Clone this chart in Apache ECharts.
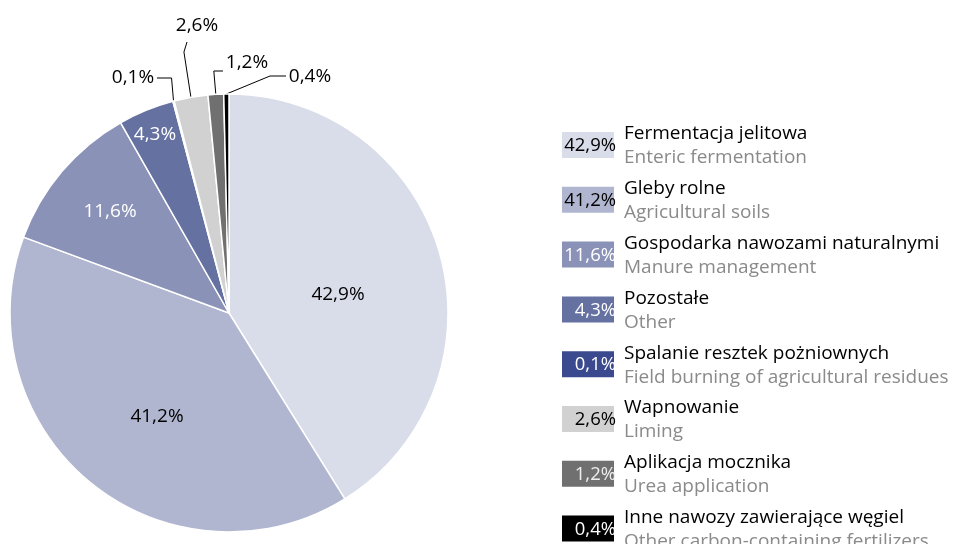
<!DOCTYPE html>
<html>
<head>
<meta charset="utf-8">
<script src="https://cdn.jsdelivr.net/npm/echarts@6/dist/echarts.min.js"></script>
<style>
  html, body { margin: 0; padding: 0; background: #fff; }
  #chart { width: 953px; height: 544px; }
</style>
</head>
<body>
<div id="chart"></div>
<script>
const namesPl = ["Fermentacja jelitowa", "Gleby rolne", "Gospodarka nawozami naturalnymi", "Pozostałe",
  "Spalanie resztek pożniownych", "Wapnowanie", "Aplikacja mocznika", "Inne nawozy zawierające węgiel"];
const namesEn = ["Enteric fermentation", "Agricultural soils", "Manure management", "Other",
  "Field burning of agricultural residues", "Liming", "Urea application", "Other carbon-containing fertilizers"];
const values = [42.9, 41.2, 11.6, 4.3, 0.1, 2.6, 1.2, 0.4];
const colors = ["#d9dde9", "#b1b6d0", "#8a92b8", "#6571a1", "#3b4a8e", "#d1d1d1", "#707070", "#000000"];
const sliceTextColors = ["#000", "#000", "#fff", "#fff", "#000", "#000", "#000", "#000"];
const swatchTextColors = ["#000", "#000", "#fff", "#fff", "#fff", "#000", "#eee", "#fff"];

const FONT = "'Open Sans', sans-serif";
const fmt = (v) => v.toFixed(1).replace(".", ",") + "%";

// label centres (px), first four inside, last four outside
const labelPos = [[338, 295], [157, 417], [110, 212], [155, 135], [133, 78], [197, 26], [247, 63], [310, 77]];

function leaderLine(i, a, lx, ly) {
  if (i === 4) return [a, [a[0] - 2, ly], [lx + 24, ly]];
  if (i === 5) return [a, [a[0] - 7, ly + 26], [lx - 10, ly + 16]];
  if (i === 6) return [a, [a[0] - 2, ly + 8], [lx - 24, ly + 8]];
  return [a, [lx - 40, ly - 1], [lx - 24, ly - 1]];
}

const chart = echarts.init(document.getElementById("chart"));

const legend = [];
values.forEach((v, i) => {
  const y0 = 132 + 54.8 * i;
  legend.push(
    { type: "rect", shape: { x: 562, y: y0, width: 52, height: 26 }, style: { fill: colors[i] } },
    { type: "text", x: 616, y: y0 + 14, style: { text: fmt(v), fill: swatchTextColors[i], font: "18.5px " + FONT, align: "right", verticalAlign: "middle", textAlign: "right", textVerticalAlign: "middle" } },
    { type: "text", x: 624, y: y0 + 2, style: { text: namesPl[i], fill: "#000", font: "19px " + FONT, align: "left", verticalAlign: "middle", textAlign: "left", textVerticalAlign: "middle" } },
    { type: "text", x: 624, y: y0 + 26, style: { text: namesEn[i], fill: "#8a8a8a", font: "19px " + FONT, align: "left", verticalAlign: "middle", textAlign: "left", textVerticalAlign: "middle" } }
  );
});

chart.setOption({
  animation: false,
  graphic: legend,
  series: [{
    type: "pie",
    center: [229, 313],
    radius: 219,
    startAngle: 90,
    clockwise: true,
    avoidLabelOverlap: false,
    itemStyle: { borderColor: "#fff", borderWidth: 1.5 },
    label: { fontFamily: FONT, fontSize: 19, formatter: (p) => fmt(p.value) },
    labelLine: { show: true, length: 10, length2: 10, lineStyle: { color: "#000", width: 1 } },
    emphasis: { disabled: true },
    labelLayout: function (p) {
      const i = p.dataIndex;
      const pos = labelPos[i];
      const out = { x: pos[0], y: pos[1], align: "center", verticalAlign: "middle" };
      if (i >= 4 && p.labelLinePoints) {
        out.labelLinePoints = leaderLine(i, p.labelLinePoints[0], pos[0], pos[1]);
      }
      return out;
    },
    data: values.map((v, i) => ({
      value: v,
      name: namesPl[i],
      itemStyle: { color: colors[i] },
      label: { position: i < 4 ? "inside" : "outside", color: sliceTextColors[i] },
      labelLine: { show: i >= 4 }
    }))
  }]
});
</script>
</body>
</html>
